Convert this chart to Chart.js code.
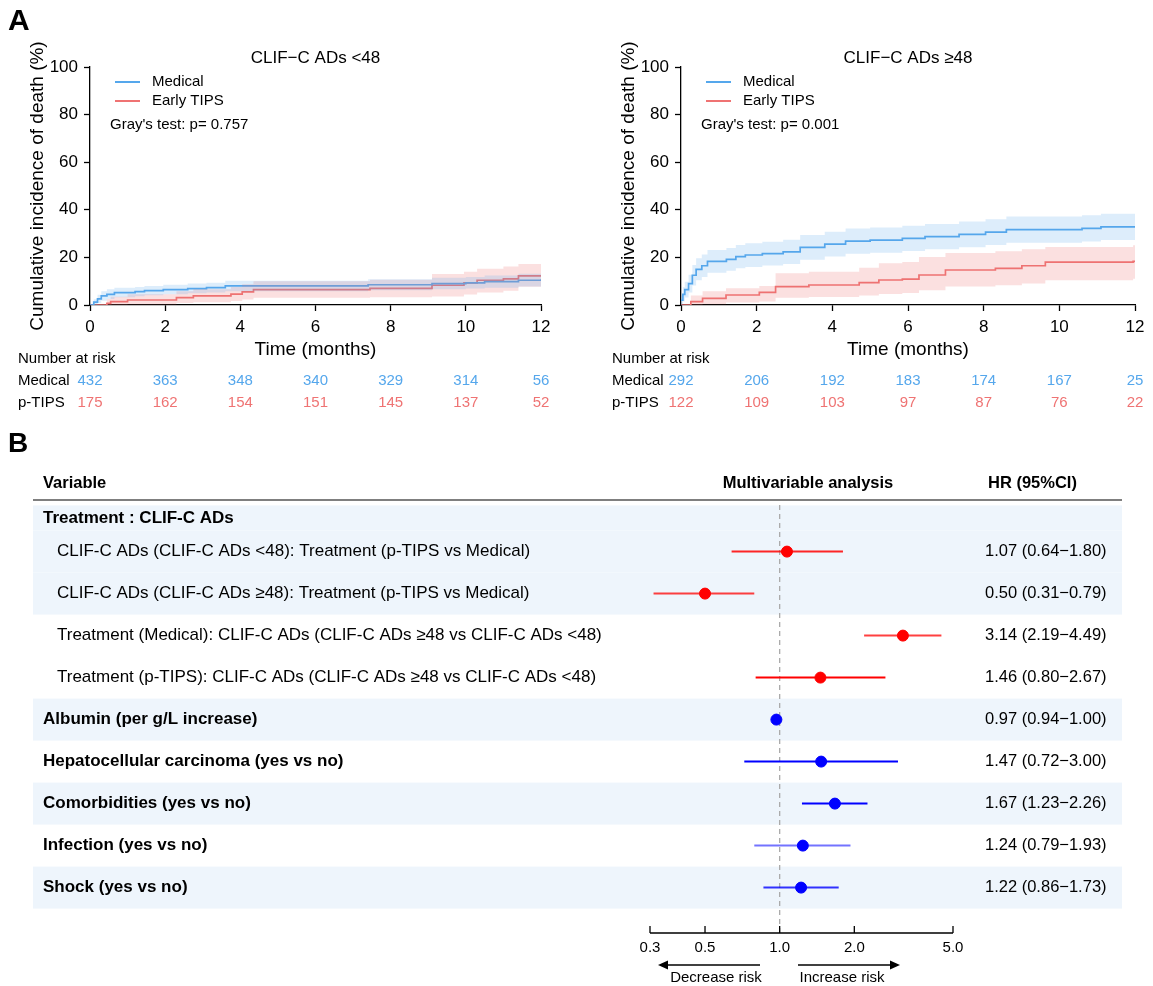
<!DOCTYPE html>
<html>
<head>
<meta charset="utf-8">
<script src="https://cdn.jsdelivr.net/npm/chart.js@4.4.1/dist/chart.umd.min.js"></script>
<style>
  html, body { margin: 0; padding: 0; background: #fff; }
  body { width: 1153px; height: 986px; position: relative; overflow: hidden; }
  canvas { position: absolute; }
  #kmLow { left: 0; top: 0; width: 580px; height: 420px; }
  #kmHigh { left: 580px; top: 0; width: 573px; height: 420px; }
  #forest { left: 0; top: 420px; width: 1153px; height: 566px; }
</style>
</head>
<body>
<canvas id="kmLow" width="580" height="420"></canvas>
<canvas id="kmHigh" width="573" height="420"></canvas>
<canvas id="forest" width="1153" height="566"></canvas>
<script>
// ---- Panel A: cumulative incidence, CLIF-C ADs <48 ----
const lowMedT  = [0, 0.1, 0.2, 0.3, 0.45, 0.65, 1.2, 1.45, 1.95, 2.6, 3.1, 3.6, 7.4, 9.1, 10.0, 10.5, 11.4, 12];
const lowMedV  = [0, 1.2, 2.6, 3.8, 4.5, 5.2, 5.6, 6.0, 6.5, 6.9, 7.3, 8.0, 8.5, 9.0, 9.3, 9.8, 10.4, 10.8];
const lowMedLo = [0, 0, 0.8, 1.8, 2.5, 3.3, 3.7, 4.1, 4.5, 4.9, 5.2, 5.8, 6.2, 6.6, 6.9, 7.3, 7.8, 8.1];
const lowMedHi = [0, 2.4, 4.3, 5.8, 6.6, 7.2, 7.6, 8.0, 8.5, 9.0, 9.4, 10.2, 10.8, 11.4, 11.8, 12.4, 13.1, 13.6];

const lowTipsT  = [0, 0.45, 0.55, 1.0, 2.3, 2.75, 3.75, 4.05, 4.35, 7.45, 9.1, 9.95, 10.3, 11.0, 11.4, 12];
const lowTipsV  = [0, 0.7, 1.4, 2.1, 3.1, 3.8, 4.6, 5.5, 6.5, 7.0, 8.3, 9.3, 10.4, 11.0, 12.2, 12.2];
const lowTipsLo = [0, 0, 0, 0.2, 0.8, 1.2, 1.7, 2.3, 3.0, 3.3, 3.6, 4.4, 5.2, 6.0, 7.7, 7.7];
const lowTipsHi = [0, 2.5, 3.5, 4.5, 5.8, 6.6, 7.6, 8.7, 10.0, 10.6, 13.0, 14.0, 15.2, 16.2, 17.2, 17.2];

// ---- Panel A: cumulative incidence, CLIF-C ADs >=48 ----
const highMedT  = [0, 0.05, 0.1, 0.2, 0.3, 0.4, 0.55, 0.7, 1.2, 1.45, 1.7, 2.15, 2.7, 3.15, 3.8, 4.35, 5.0, 5.85, 6.45, 7.35, 8.05, 8.6, 10.6, 11.1, 12];
const highMedV  = [2.0, 4.5, 6.5, 9.0, 12.5, 15.0, 16.5, 18.3, 19.2, 20.3, 21.0, 21.6, 22.3, 24.2, 25.6, 26.8, 27.3, 28.0, 28.7, 29.7, 30.6, 31.7, 32.2, 32.8, 33.0];
const highMedLo = [0, 1.5, 3.2, 5.3, 8.2, 10.4, 11.8, 13.5, 14.4, 15.4, 16.0, 16.6, 17.2, 19.0, 20.4, 21.5, 22.0, 22.7, 23.4, 24.3, 25.2, 26.2, 26.7, 27.3, 27.6];
const highMedHi = [4.0, 7.5, 9.8, 12.7, 16.8, 19.6, 21.2, 23.1, 24.0, 25.2, 25.9, 26.6, 27.4, 29.4, 30.8, 32.1, 32.6, 33.3, 34.0, 35.1, 36.0, 37.2, 37.7, 38.3, 38.5];

const highTipsT  = [0, 0.26, 0.57, 1.19, 2.07, 2.5, 3.38, 4.71, 5.23, 5.85, 6.29, 6.99, 8.31, 9.01, 9.63, 11.95, 12];
const highTipsV  = [0, 1.4, 2.8, 4.2, 5.3, 7.7, 8.4, 9.4, 10.5, 10.9, 12.6, 14.7, 15.4, 16.5, 18.0, 18.3, 18.3];
const highTipsLo = [0, 0, 0.3, 1.0, 1.5, 3.0, 3.4, 4.0, 4.6, 5.0, 6.2, 7.8, 8.3, 9.0, 10.4, 11.0, 11.0];
const highTipsHi = [0, 4.0, 5.8, 7.0, 8.0, 13.3, 14.0, 15.6, 17.5, 18.1, 20.2, 21.9, 22.6, 23.4, 24.4, 25.1, 25.1];

// number at risk
const riskTimes    = [0, 2, 4, 6, 8, 10, 12];
const riskLowMed   = [432, 363, 348, 340, 329, 314, 56];
const riskLowTips  = [175, 162, 154, 151, 145, 137, 52];
const riskHighMed  = [292, 206, 192, 183, 174, 167, 25];
const riskHighTips = [122, 109, 103, 97, 87, 76, 22];

// ---- Panel B: forest plot ----
const fpGroup  = 'Treatment : CLIF-C ADs';
const fpLabels = [
  'CLIF-C ADs (CLIF-C ADs <48): Treatment (p-TIPS vs Medical)',
  'CLIF-C ADs (CLIF-C ADs ≥48): Treatment (p-TIPS vs Medical)',
  'Treatment (Medical): CLIF-C ADs (CLIF-C ADs ≥48 vs CLIF-C ADs <48)',
  'Treatment (p-TIPS): CLIF-C ADs (CLIF-C ADs ≥48 vs CLIF-C ADs <48)',
  'Albumin (per g/L increase)',
  'Hepatocellular carcinoma (yes vs no)',
  'Comorbidities (yes vs no)',
  'Infection (yes vs no)',
  'Shock (yes vs no)'
];
const fpHR   = [1.07, 0.50, 3.14, 1.46, 0.97, 1.47, 1.67, 1.24, 1.22];
const fpLow  = [0.64, 0.31, 2.19, 0.80, 0.94, 0.72, 1.23, 0.79, 0.86];
const fpHigh = [1.80, 0.79, 4.49, 2.67, 1.00, 3.00, 2.26, 1.93, 1.73];
const fpTicks = [0.3, 0.5, 1.0, 2.0, 5.0];

// styles
const FONT = '"Liberation Sans", Arial, Helvetica, sans-serif';
const BLUE = '#55A7EC', RED = '#EF7373';
const BLUE_BAND = 'rgba(85,167,236,0.2)', RED_BAND = 'rgba(239,115,115,0.22)';
const ROW_BAND = '#EEF5FC';
const fpIndent = [true, true, true, true, false, false, false, false, false];
const fpShade  = [true, true, false, false, true, false, true, false, true];
const fpColor  = ['#ff0000', '#ff0000', '#ff0000', '#ff0000', '#0000ff', '#0000ff', '#0000ff', '#0000ff', '#0000ff'];
const fpLineAlpha = [0.85, 0.75, 0.75, 1, 1, 1, 1, 0.55, 0.8];

Chart.defaults.font.family = FONT;
Chart.defaults.color = '#000';

function pts(t, v) { return t.map((x, i) => ({ x: x, y: v[i] })); }

function band(t, lo, hi, color) {
  return [
    { data: pts(t, hi), borderColor: 'rgba(0,0,0,0)', borderWidth: 1, pointRadius: 0, fill: false, stepped: true },
    { data: pts(t, lo), borderColor: 'rgba(0,0,0,0)', borderWidth: 1, pointRadius: 0, fill: '-1', backgroundColor: color, stepped: true }
  ];
}

function kmChart(id, cfg) {
  const kmText = {
    id: 'kmText',
    afterDraw(chart) {
      const ctx = chart.ctx, a = chart.chartArea, xs = chart.scales.x;
      ctx.save();
      ctx.fillStyle = '#000';
      ctx.textBaseline = 'middle';
      if (cfg.letter) {
        ctx.font = 'bold 30px ' + FONT;
        ctx.textAlign = 'left';
        ctx.fillText(cfg.letter, 8, 22);
      }
      ctx.font = '17px ' + FONT;
      ctx.textAlign = 'center';
      ctx.fillText(cfg.title, (a.left + a.right) / 2, 58);
      // legend
      ctx.lineWidth = 2;
      [[BLUE, 'Medical', 82], [RED, 'Early TIPS', 101]].forEach(([c, t, y]) => {
        ctx.strokeStyle = c;
        ctx.beginPath();
        ctx.moveTo(a.left + 25, y); ctx.lineTo(a.left + 50, y);
        ctx.stroke();
        ctx.font = '15px ' + FONT;
        ctx.textAlign = 'left';
        ctx.fillText(t, a.left + 62, y);
      });
      ctx.fillText(cfg.pText, a.left + 20, 125);
      // number at risk
      ctx.fillText('Number at risk', cfg.riskX, 359);
      ctx.fillText('Medical', cfg.riskX, 381);
      ctx.fillText('p-TIPS', cfg.riskX, 403);
      ctx.textAlign = 'center';
      riskTimes.forEach((t, i) => {
        const x = xs.getPixelForValue(t);
        ctx.fillStyle = BLUE;
        ctx.fillText(String(cfg.riskMed[i]), x, 381);
        ctx.fillStyle = RED;
        ctx.fillText(String(cfg.riskTips[i]), x, 403);
      });
      ctx.restore();
    }
  };

  new Chart(document.getElementById(id), {
    type: 'line',
    data: {
      datasets: [
        ...band(cfg.medT, cfg.medLo, cfg.medHi, BLUE_BAND),
        ...band(cfg.tipsT, cfg.tipsLo, cfg.tipsHi, RED_BAND),
        { label: 'Medical', data: pts(cfg.medT, cfg.medV), borderColor: BLUE, borderWidth: 1.7, pointRadius: 0, fill: false, stepped: true },
        { label: 'Early TIPS', data: pts(cfg.tipsT, cfg.tipsV), borderColor: RED, borderWidth: 1.7, pointRadius: 0, fill: false, stepped: true }
      ]
    },
    options: {
      responsive: false,
      animation: false,
      devicePixelRatio: 1,
      layout: { padding: { left: cfg.padLeft, right: cfg.padRight, top: 67, bottom: 58.6 } },
      plugins: { legend: { display: false }, tooltip: { enabled: false } },
      scales: {
        x: {
          type: 'linear', min: 0, max: 12,
          ticks: { stepSize: 2, font: { size: 17 }, color: '#000', padding: 6, maxRotation: 0 },
          grid: { drawOnChartArea: false, color: '#000', tickLength: 6, tickWidth: 1.3 },
          border: { color: '#000', width: 1.3 },
          title: { display: true, text: 'Time (months)', font: { size: 19 }, color: '#000', padding: 0 },
          afterFit: s => { s.height = 56.4; }
        },
        y: {
          min: 0, max: 100,
          ticks: { stepSize: 20, font: { size: 17 }, color: '#000', padding: 6 },
          grid: { drawOnChartArea: false, color: '#000', tickLength: 6, tickWidth: 1.3 },
          border: { color: '#000', width: 1.3 },
          title: { display: true, text: 'Cumulative incidence of death (%)', font: { size: 19 }, color: '#000', padding: { top: 4, bottom: 0 } },
          afterFit: s => { s.width = 68; }
        }
      }
    },
    plugins: [kmText]
  });
}

kmChart('kmLow', {
  letter: 'A', title: 'CLIF−C ADs <48', pText: "Gray's test: p= 0.757",
  padLeft: 22, padRight: 39, riskX: 18,
  medT: lowMedT, medV: lowMedV, medLo: lowMedLo, medHi: lowMedHi,
  tipsT: lowTipsT, tipsV: lowTipsV, tipsLo: lowTipsLo, tipsHi: lowTipsHi,
  riskMed: riskLowMed, riskTips: riskLowTips
});

kmChart('kmHigh', {
  letter: '', title: 'CLIF−C ADs ≥48', pText: "Gray's test: p= 0.001",
  padLeft: 33, padRight: 18, riskX: 32,
  medT: highMedT, medV: highMedV, medLo: highMedLo, medHi: highMedHi,
  tipsT: highTipsT, tipsV: highTipsV, tipsLo: highTipsLo, tipsHi: highTipsHi,
  riskMed: riskHighMed, riskTips: riskHighTips
});

// ---- forest plot ----
const rows = fpLabels.map((_, i) => i + 1);

const forestTable = {
  id: 'forestTable',
  beforeDatasetsDraw(chart) {
    const ctx = chart.ctx, xs = chart.scales.x, ys = chart.scales.y;
    const L = 33, R = 1122;
    ctx.save();
    // shaded rows
    ctx.fillStyle = ROW_BAND;
    ctx.fillRect(L, ys.getPixelForValue(-0.1), R - L, ys.getPixelForValue(0.5) - ys.getPixelForValue(-0.1));
    rows.forEach((r, i) => {
      if (!fpShade[i]) return;
      const y0 = ys.getPixelForValue(r - 0.5), y1 = ys.getPixelForValue(r + 0.5);
      ctx.fillRect(L, y0, R - L, y1 - y0);
    });
    // header
    ctx.fillStyle = '#000';
    ctx.textBaseline = 'middle';
    ctx.font = 'bold 28px ' + FONT;
    ctx.fillText('B', 8, 24);
    ctx.font = 'bold 16.5px ' + FONT;
    ctx.textAlign = 'left';
    ctx.fillText('Variable', 43, 63);
    ctx.fillText('HR (95%CI)', 988, 63);
    ctx.textAlign = 'center';
    ctx.fillText('Multivariable analysis', 808, 63);
    ctx.strokeStyle = '#555';
    ctx.lineWidth = 1.5;
    ctx.beginPath();
    ctx.moveTo(L, 80); ctx.lineTo(R, 80);
    ctx.stroke();
    // labels
    ctx.textAlign = 'left';
    ctx.font = 'bold 17px ' + FONT;
    ctx.fillText(fpGroup, 43, ys.getPixelForValue(0.2));
    rows.forEach((r, i) => {
      const y = ys.getPixelForValue(r);
      ctx.font = (fpIndent[i] ? '' : 'bold ') + '17px ' + FONT;
      ctx.fillText(fpLabels[i], fpIndent[i] ? 57 : 43, y);
      ctx.font = '16.5px ' + FONT;
      ctx.fillText(fpHR[i].toFixed(2) + ' (' + fpLow[i].toFixed(2) + '−' + fpHigh[i].toFixed(2) + ')', 985, y);
    });
    // reference line at HR = 1
    const x1 = xs.getPixelForValue(1);
    ctx.strokeStyle = '#aaaaaa';
    ctx.lineWidth = 1.3;
    ctx.setLineDash([5, 4]);
    ctx.beginPath();
    ctx.moveTo(x1, 85); ctx.lineTo(x1, 515);
    ctx.stroke();
    ctx.restore();
  },
  afterDraw(chart) {
    const ctx = chart.ctx, xs = chart.scales.x;
    const ay = 513;
    const xa = xs.getPixelForValue(fpTicks[0]), xb = xs.getPixelForValue(fpTicks[fpTicks.length - 1]);
    ctx.save();
    ctx.strokeStyle = '#000';
    ctx.fillStyle = '#000';
    ctx.lineWidth = 1.3;
    ctx.beginPath();
    ctx.moveTo(xa, ay); ctx.lineTo(xb, ay);
    fpTicks.forEach(t => {
      const x = xs.getPixelForValue(t);
      ctx.moveTo(x, ay); ctx.lineTo(x, ay - 7);
    });
    ctx.stroke();
    ctx.font = '15px ' + FONT;
    ctx.textAlign = 'center';
    ctx.textBaseline = 'middle';
    fpTicks.forEach(t => ctx.fillText(t.toFixed(1), xs.getPixelForValue(t), 528));
    // risk arrows
    const arrow = (from, to, y) => {
      const dir = Math.sign(to - from);
      ctx.beginPath();
      ctx.moveTo(from, y); ctx.lineTo(to - dir * 8, y);
      ctx.stroke();
      ctx.beginPath();
      ctx.moveTo(to, y); ctx.lineTo(to - dir * 10, y - 4.5); ctx.lineTo(to - dir * 10, y + 4.5);
      ctx.closePath();
      ctx.fill();
    };
    ctx.lineWidth = 1.6;
    arrow(760, 658, 545);
    arrow(798, 900, 545);
    ctx.font = '15px ' + FONT;
    ctx.fillText('Decrease risk', 716, 558);
    ctx.fillText('Increase risk', 842, 558);
    ctx.restore();
  }
};

const ciSets = rows.map((r, i) => ({
  type: 'line',
  data: [{ x: fpLow[i], y: r }, { x: fpHigh[i], y: r }],
  borderColor: Chart.helpers.color(fpColor[i]).alpha(fpLineAlpha[i]).rgbString(),
  borderWidth: 2,
  pointRadius: 0,
  order: 2,
  clip: false
}));

new Chart(document.getElementById('forest'), {
  type: 'scatter',
  data: {
    datasets: [
      ...ciSets,
      {
        data: rows.map((r, i) => ({ x: fpHR[i], y: r })),
        backgroundColor: fpColor,
        borderColor: fpColor,
        pointRadius: 5.5,
        order: 1,
        clip: false
      }
    ]
  },
  options: {
    responsive: false,
    animation: false,
    devicePixelRatio: 1,
    layout: { padding: { left: 650, right: 200, top: 85.4, bottom: 77.4 } },
    plugins: { legend: { display: false }, tooltip: { enabled: false } },
    scales: {
      x: { type: 'logarithmic', min: 0.3, max: 5, display: false },
      y: { type: 'linear', min: -0.1, max: 9.5, reverse: true, display: false }
    }
  },
  plugins: [forestTable]
});
</script>
</body>
</html>
